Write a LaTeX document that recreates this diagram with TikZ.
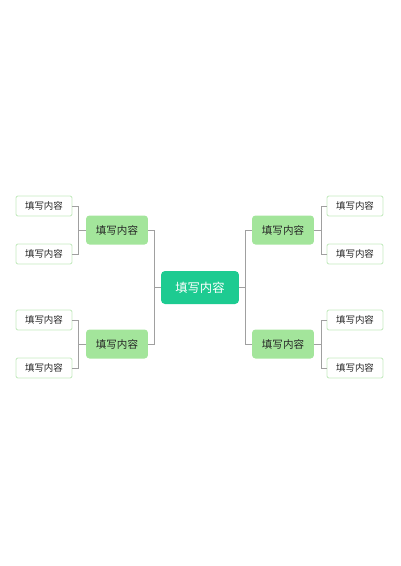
\documentclass[tikz,border=0pt]{standalone}
\usepackage{fontspec}
\setmainfont{Noto Sans CJK SC}
\usepackage{xcolor}
\usepackage{tikz}
\definecolor{rootgreen}{HTML}{1DCB91}
\definecolor{midgreen}{HTML}{A3E59B}
\definecolor{leafline}{HTML}{C5EBC0}
\definecolor{linkgray}{HTML}{A0A0A0}
\tikzset{
	root/.style={fill=rootgreen,text=white,rounded corners=0.08cm,minimum width=1.56cm,minimum height=0.66cm,font=\fontsize{7}{8}\selectfont,inner sep=0pt},
	topic/.style={fill=midgreen,text=black!85,rounded corners=0.07cm,minimum width=1.24cm,minimum height=0.58cm,font=\fontsize{6}{7}\selectfont,inner sep=0pt},
	leaf/.style={draw=leafline,line width=0.5pt,fill=white,text=black!85,rounded corners=0.04cm,minimum width=1.12cm,minimum height=0.4cm,font=\fontsize{5.4}{6}\selectfont,inner sep=0pt},
	link/.style={draw=linkgray,line width=0.4pt}
}
\begin{document}
\begin{tikzpicture}[x=0.02cm,y=-0.02cm]
		\useasboundingbox (0,0) rectangle (400,566);
		\node[root] (c) at (200,287.5) {填写内容};
		\node[topic] (m1) at (117,230) {填写内容};
		\node[topic] (m2) at (117,344) {填写内容};
		\node[topic] (m3) at (283,230) {填写内容};
		\node[topic] (m4) at (283,344) {填写内容};
		\node[leaf] (l1) at (44,206) {填写内容};
		\node[leaf] (l2) at (44,254) {填写内容};
		\node[leaf] (l3) at (44,320) {填写内容};
		\node[leaf] (l4) at (44,368) {填写内容};
		\node[leaf] (r1) at (355,206) {填写内容};
		\node[leaf] (r2) at (355,254) {填写内容};
		\node[leaf] (r3) at (355,320) {填写内容};
		\node[leaf] (r4) at (355,368) {填写内容};
		\draw[link] (c.west) -- ++(-6,0) coordinate (cl) |- (m1.east);
		\draw[link] (cl) |- (m2.east);
		\draw[link] (c.east) -- ++(6,0) coordinate (cr) |- (m3.west);
		\draw[link] (cr) |- (m4.west);
		\draw[link] (m1.west) -- ++(-7,0) coordinate (a1) |- (l1.east);
		\draw[link] (a1) |- (l2.east);
		\draw[link] (m2.west) -- ++(-7,0) coordinate (a2) |- (l3.east);
		\draw[link] (a2) |- (l4.east);
		\draw[link] (m3.east) -- ++(7,0) coordinate (a3) |- (r1.west);
		\draw[link] (a3) |- (r2.west);
		\draw[link] (m4.east) -- ++(7,0) coordinate (a4) |- (r3.west);
		\draw[link] (a4) |- (r4.west);
	\end{tikzpicture}
\end{document}
